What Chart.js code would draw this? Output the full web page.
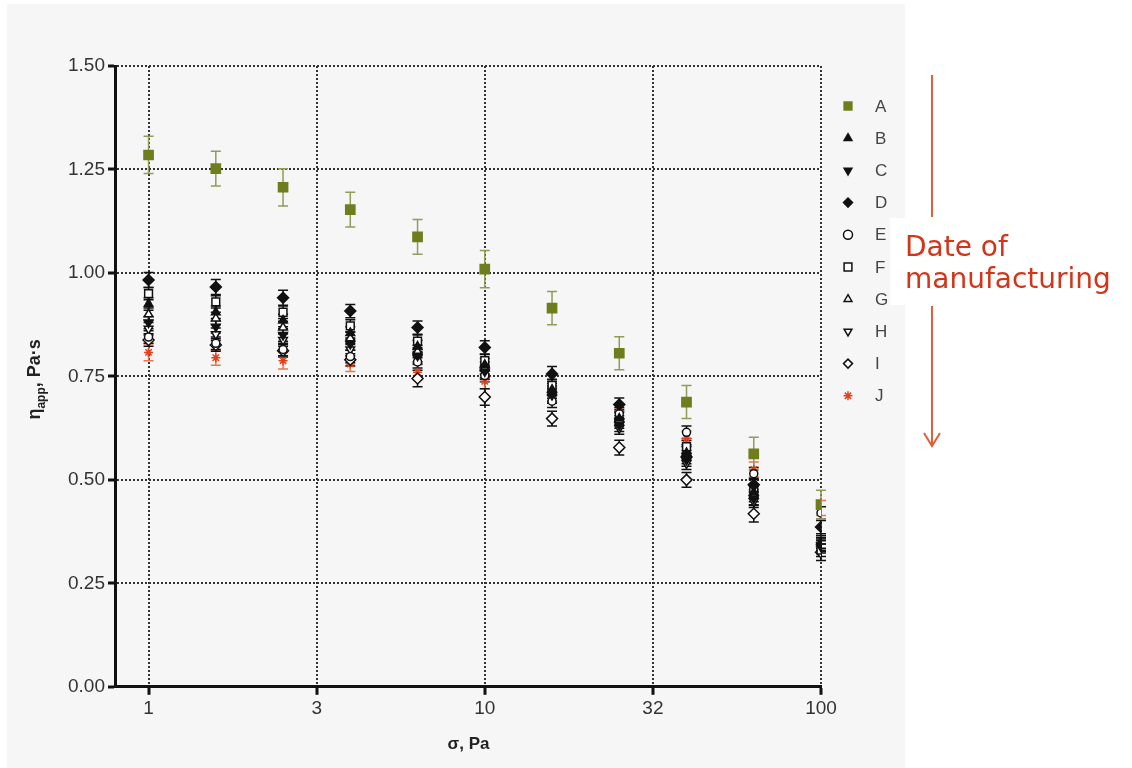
<!DOCTYPE html>
<html>
<head>
<meta charset="utf-8">
<title>Apparent viscosity vs shear stress</title>
<script src="https://cdn.jsdelivr.net/npm/chart.js@4/dist/chart.umd.min.js"></script>
<style>
  html, body { margin: 0; padding: 0; background: #fff; }
  #wrap { position: relative; width: 1132px; height: 768px; }
</style>
</head>
<body>
<div id="wrap"><canvas id="chart-canvas" width="1132" height="768"></canvas></div>
<script>
"use strict";

// shear stress steps (Pa), 0.2 decade apart
let stress = [1, 1.585, 2.512, 3.981, 6.31, 10, 15.85, 25.12, 39.81, 63.1, 100];
let xTickValues = [1, 3.162, 10, 31.62, 100];
let xTickLabels = ["1", "3", "10", "32", "100"];

// apparent viscosity per sample (Pa·s) and the error bar half-heights
let etaA = [1.285, 1.252, 1.207, 1.153, 1.087, 1.009, 0.915, 0.806, 0.688, 0.563, 0.440];
let etaB = [0.925, 0.905, 0.885, 0.855, 0.822, 0.778, 0.718, 0.648, 0.565, 0.470, 0.345];
let etaC = [0.880, 0.870, 0.850, 0.828, 0.800, 0.762, 0.705, 0.632, 0.548, 0.455, 0.338];
let etaD = [0.983, 0.966, 0.940, 0.908, 0.868, 0.820, 0.756, 0.682, 0.555, 0.488, 0.386];
let etaE = [0.845, 0.830, 0.815, 0.798, 0.785, 0.752, 0.690, 0.660, 0.615, 0.515, 0.420];
let etaF = [0.950, 0.930, 0.905, 0.872, 0.835, 0.788, 0.728, 0.640, 0.580, 0.475, 0.330];
let etaG = [0.900, 0.890, 0.868, 0.842, 0.810, 0.770, 0.712, 0.655, 0.570, 0.462, 0.350];
let etaH = [0.865, 0.852, 0.838, 0.815, 0.795, 0.758, 0.700, 0.625, 0.540, 0.448, 0.342];
let etaI = [0.838, 0.826, 0.812, 0.790, 0.745, 0.700, 0.648, 0.578, 0.500, 0.418, 0.325];
let etaJ = [0.808, 0.795, 0.788, 0.780, 0.760, 0.738, 0.705, 0.665, 0.600, 0.525, 0.432];

let errA = [0.045, 0.042, 0.045, 0.042, 0.042, 0.045, 0.040, 0.040, 0.040, 0.040, 0.035];
let errB = [0.015, 0.015, 0.015, 0.015, 0.015, 0.015, 0.015, 0.015, 0.015, 0.015, 0.015];
let errC = [0.015, 0.015, 0.015, 0.015, 0.015, 0.015, 0.015, 0.015, 0.015, 0.015, 0.015];
let errD = [0.018, 0.018, 0.018, 0.016, 0.016, 0.016, 0.018, 0.016, 0.016, 0.016, 0.016];
let errE = [0.015, 0.015, 0.015, 0.015, 0.015, 0.015, 0.015, 0.015, 0.015, 0.015, 0.015];
let errF = [0.015, 0.015, 0.015, 0.015, 0.015, 0.015, 0.015, 0.015, 0.015, 0.015, 0.015];
let errG = [0.015, 0.015, 0.015, 0.015, 0.015, 0.015, 0.015, 0.015, 0.015, 0.015, 0.015];
let errH = [0.015, 0.015, 0.015, 0.015, 0.015, 0.015, 0.015, 0.015, 0.015, 0.015, 0.015];
let errI = [0.015, 0.015, 0.015, 0.015, 0.020, 0.020, 0.018, 0.018, 0.018, 0.020, 0.020];
let errJ = [0.020, 0.018, 0.020, 0.018, 0.018, 0.018, 0.018, 0.018, 0.018, 0.018, 0.018];

let sampleNames = ["A", "B", "C", "D", "E", "F", "G", "H", "I", "J"];

const FONT = "Arial, 'Liberation Sans', sans-serif";
const INK = "#111";
const OLIVE = "#6f7d1c";
const RED = "#e2401b";

// marker look for every sample
function Sample(name, values, errors, pointStyle, rotation, fill, stroke, radius, errColor) {
  this.label = name;
  this.data = stress.map((x, i) => ({ x: x, y: values[i] }));
  this.errors = errors;
  this.errorColor = errColor;
  this.showLine = false;
  this.pointStyle = pointStyle;
  this.rotation = rotation;
  this.pointRadius = radius;
  this.pointBackgroundColor = fill;
  this.pointBorderColor = stroke;
  this.pointBorderWidth = 1.5;
  this.backgroundColor = fill;
  this.borderColor = stroke;
}

let datasets = [
  new Sample(sampleNames[0], etaA, errA, "rect", 0, OLIVE, OLIVE, 6.5, "#8f9c5a"),
  new Sample(sampleNames[1], etaB, errB, "triangle", 0, INK, INK, 5, INK),
  new Sample(sampleNames[2], etaC, errC, "triangle", 180, INK, INK, 5, INK),
  new Sample(sampleNames[3], etaD, errD, "rectRot", 0, INK, INK, 5.5, INK),
  new Sample(sampleNames[4], etaE, errE, "circle", 0, "#fff", INK, 4, INK),
  new Sample(sampleNames[5], etaF, errF, "rect", 0, "#fff", INK, 5.5, INK),
  new Sample(sampleNames[6], etaG, errG, "triangle", 0, "#fff", INK, 5, INK),
  new Sample(sampleNames[7], etaH, errH, "triangle", 180, "#fff", INK, 5, INK),
  new Sample(sampleNames[8], etaI, errI, "rectRot", 0, "#fff", INK, 5.5, INK),
  new Sample(sampleNames[9], etaJ, errJ, "star", 0, RED, RED, 4.5, "#e8774f"),
];

// light grey backdrop and the white box behind the note
const backdrop = {
  id: "backdrop",
  beforeDraw(chart) {
    let ctx = chart.ctx;
    ctx.save();
    ctx.fillStyle = "#fff";
    ctx.fillRect(0, 0, chart.width, chart.height);
    ctx.fillStyle = "#f6f6f6";
    ctx.fillRect(7, 4, 898, chart.height - 4);
    ctx.fillStyle = "#fff";
    ctx.fillRect(890, 218, 242, 87);
    ctx.restore();
  },
};

const errorBars = {
  id: "errorBars",
  beforeDatasetsDraw(chart) {
    let ctx = chart.ctx;
    let xs = chart.scales.x;
    let ys = chart.scales.y;
    let cap = 5;
    for (let d = chart.data.datasets.length - 1; d >= 0; d--) {
      let ds = chart.data.datasets[d];
      ctx.save();
      ctx.strokeStyle = ds.errorColor;
      ctx.lineWidth = 1.5;
      ds.data.forEach((p, i) => {
        let px = xs.getPixelForValue(p.x);
        let top = ys.getPixelForValue(p.y + ds.errors[i]);
        let bot = ys.getPixelForValue(p.y - ds.errors[i]);
        ctx.beginPath();
        ctx.moveTo(px, top);
        ctx.lineTo(px, bot);
        ctx.moveTo(px - cap, top);
        ctx.lineTo(px + cap, top);
        ctx.moveTo(px - cap, bot);
        ctx.lineTo(px + cap, bot);
        ctx.stroke();
      });
      ctx.restore();
    }
  },
};

// legend column, y axis title with subscript, and the manufacturing-date arrow
const extras = {
  id: "extras",
  afterDraw(chart) {
    let ctx = chart.ctx;
    let area = chart.chartArea;

    ctx.save();
    chart.data.datasets.forEach((ds, i) => {
      let y = area.top + 40 + i * 32.2;
      ctx.fillStyle = ds.pointBackgroundColor;
      ctx.strokeStyle = ds.pointBorderColor;
      ctx.lineWidth = 1.5;
      Chart.helpers.drawPoint(ctx, {
        pointStyle: ds.pointStyle,
        rotation: ds.rotation,
        radius: ds.pointStyle === "rect" ? 5.5 : 4.5,
        borderWidth: 1.5,
      }, area.right + 27, y);
      ctx.fillStyle = "#444";
      ctx.font = "17px " + FONT;
      ctx.textAlign = "left";
      ctx.textBaseline = "middle";
      ctx.fillText(ds.label, area.right + 54, y + 1);
    });
    ctx.restore();

    // η_app, Pa·s
    ctx.save();
    ctx.translate(40, (area.top + area.bottom) / 2 + 3);
    ctx.rotate(-Math.PI / 2);
    ctx.fillStyle = "#222";
    ctx.textBaseline = "alphabetic";
    ctx.textAlign = "left";
    let big = "bold 18px " + FONT;
    let small = "bold 12px " + FONT;
    ctx.font = big;
    let w1 = ctx.measureText("η").width;
    let w3 = ctx.measureText(", Pa·s").width;
    ctx.font = small;
    let w2 = ctx.measureText("app").width;
    let x0 = -(w1 + w2 + w3) / 2;
    ctx.font = big;
    ctx.fillText("η", x0, 0);
    ctx.font = small;
    ctx.fillText("app", x0 + w1, 5);
    ctx.font = big;
    ctx.fillText(", Pa·s", x0 + w1 + w2, 0);
    ctx.restore();

    ctx.save();
    ctx.strokeStyle = "#e0603a";
    ctx.lineWidth = 2;
    ctx.beginPath();
    ctx.moveTo(932, 75);
    ctx.lineTo(932, 217);
    ctx.moveTo(932, 306);
    ctx.lineTo(932, 446);
    ctx.moveTo(924, 433);
    ctx.lineTo(932, 446);
    ctx.lineTo(940, 433);
    ctx.stroke();
    ctx.fillStyle = "#d1361a";
    ctx.font = "28px 'DejaVu Sans', sans-serif";
    ctx.textAlign = "left";
    ctx.textBaseline = "alphabetic";
    ctx.fillText("Date of", 905, 256);
    ctx.fillText("manufacturing", 905, 288);
    ctx.restore();
  },
};

let tickFont = { family: FONT, size: 19 };

let chart = new Chart(document.getElementById("chart-canvas"), {
  type: "scatter",
  data: { datasets: datasets },
  options: {
    responsive: false,
    animation: false,
    layout: { padding: { left: 65, right: 311, top: 66, bottom: 13 } },
    plugins: {
      legend: { display: false },
      tooltip: { enabled: false },
    },
    scales: {
      x: {
        type: "logarithmic",
        min: 0.8,
        max: 100,
        afterBuildTicks: (scale) => {
          scale.ticks = xTickValues.map((v) => ({ value: v }));
        },
        ticks: {
          callback: (v, i) => xTickLabels[i],
          font: tickFont,
          color: "#333",
          padding: 3,
          autoSkip: false,
          maxRotation: 0,
        },
        grid: { color: "#333", lineWidth: 2, tickLength: 8, tickColor: INK, tickWidth: 3, tickBorderDash: [] },
        border: { color: INK, width: 3, dash: [2, 2] },
        title: {
          display: true,
          text: "σ, Pa",
          font: { family: FONT, size: 17, weight: "bold" },
          color: "#222",
          padding: { top: 11, bottom: 0 },
        },
      },
      y: {
        min: 0,
        max: 1.5,
        ticks: {
          stepSize: 0.25,
          callback: (v) => v.toFixed(2),
          font: tickFont,
          color: "#333",
          padding: 3,
        },
        grid: { color: "#333", lineWidth: 2, tickLength: 8, tickColor: INK, tickWidth: 3, tickBorderDash: [] },
        border: { color: INK, width: 3, dash: [2, 2] },
      },
    },
  },
  plugins: [backdrop, errorBars, extras],
});
</script>
</body>
</html>
